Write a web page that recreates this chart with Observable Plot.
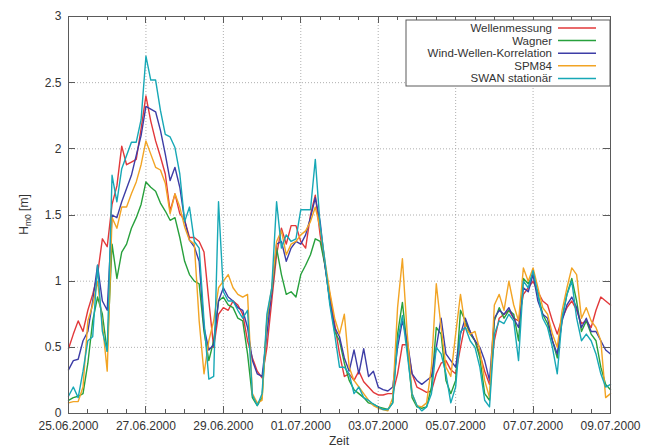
<!DOCTYPE html>
<html>
<head>
<meta charset="utf-8">
<script src="https://cdn.jsdelivr.net/npm/d3@7"></script>
<script src="https://cdn.jsdelivr.net/npm/@observablehq/plot@0.6"></script>
<style>
  body { margin: 0; background: #fff; }
  #chart { width: 647px; height: 448px; }
</style>
</head>
<body>
<div id="chart"></div>
<script>
// ---- data (3-hourly samples starting 25.06.2000 00:00 UTC) ----
const seriesNames = ["Wellenmessung", "Wagner", "Wind-Wellen-Korrelation", "SPM84", "SWAN stationär"];
const seriesColors = ["#e2383a", "#27a03c", "#3d3da6", "#f2a424", "#17a8b6"];
const startDate = "2000-06-25T00:00:00Z";
const stepHours = 3;

const wellenmessung = [
  0.49,0.60,0.70,0.62,0.78,0.90,1.05,1.32,1.26,
  1.58,1.72,2.02,1.88,1.90,1.92,2.15,2.40,
  2.21,2.06,1.94,1.81,1.53,1.66,1.51,1.46,1.33,1.33,
  1.30,1.22,0.85,0.50,0.75,0.80,0.78,0.85,0.82,0.75,
  0.55,0.42,0.32,0.27,0.50,0.85,1.20,1.40,1.28,1.42,
  1.42,1.30,1.25,1.50,1.65,1.35,1.12,0.90,0.68,0.45,
  0.28,0.30,0.25,0.32,0.24,0.20,0.16,0.14,0.14,0.15,
  0.15,0.30,0.52,0.52,0.30,0.20,0.18,0.16,0.17,0.30,
  0.38,0.40,0.33,0.30,0.50,0.68,0.62,0.55,0.45,0.32,
  0.22,0.55,0.72,0.75,0.78,0.72,0.70,0.90,0.95,1.00,
  0.92,0.85,0.82,0.70,0.60,0.72,0.80,0.85,0.78,0.68,
  0.70,0.65,0.78,0.88,0.85,0.82
];
const wagner = [
  0.10,0.12,0.13,0.15,0.38,0.70,0.88,0.75,0.47,
  1.28,1.02,1.22,1.28,1.40,1.48,1.58,1.75,
  1.71,1.68,1.59,1.53,1.46,1.48,1.33,1.15,1.05,1.00,
  0.98,0.62,0.40,0.55,0.85,0.88,0.82,0.80,0.72,0.70,
  0.45,0.12,0.06,0.12,0.70,0.92,1.25,1.05,0.90,0.92,
  0.88,1.05,1.12,1.20,1.32,1.30,1.12,0.85,0.62,0.55,
  0.38,0.25,0.18,0.15,0.12,0.08,0.07,0.05,0.04,0.03,
  0.08,0.60,0.84,0.50,0.12,0.05,0.04,0.05,0.20,0.65,
  0.60,0.25,0.15,0.25,0.78,0.70,0.60,0.55,0.42,0.15,
  0.10,0.70,0.80,0.72,0.78,0.75,0.55,1.02,0.98,1.05,
  0.90,0.75,0.68,0.55,0.42,0.72,0.90,1.02,0.85,0.62,
  0.70,0.60,0.55,0.35,0.22,0.18
];
const windWellenKorrelation = [
  0.33,0.40,0.41,0.55,0.62,0.85,1.12,0.85,0.78,
  1.50,1.48,1.60,1.70,1.80,1.95,2.10,2.32,
  2.30,2.28,2.14,1.96,1.76,1.86,1.71,1.46,1.31,1.26,
  1.15,0.65,0.48,0.52,0.85,0.95,0.88,0.85,0.80,0.78,
  0.65,0.40,0.30,0.28,0.60,0.92,1.28,1.30,1.15,1.25,
  1.30,1.28,1.35,1.48,1.63,1.45,1.12,0.85,0.65,0.58,
  0.42,0.32,0.48,0.30,0.49,0.28,0.32,0.20,0.18,0.17,
  0.20,0.50,0.70,0.55,0.30,0.25,0.22,0.25,0.28,0.50,
  0.72,0.45,0.40,0.35,0.60,0.72,0.62,0.55,0.50,0.40,
  0.25,0.72,0.78,0.75,0.80,0.72,0.65,0.95,0.92,1.05,
  0.85,0.75,0.72,0.55,0.45,0.70,0.82,0.88,0.80,0.65,
  0.72,0.62,0.62,0.55,0.48,0.45
];
const spm84 = [
  0.08,0.09,0.09,0.20,0.70,0.82,1.00,0.68,0.32,
  1.48,1.40,1.56,1.56,1.66,1.75,1.88,2.06,
  1.96,1.86,1.84,1.74,1.51,1.66,1.56,1.41,1.31,1.28,
  0.70,0.30,0.55,0.70,0.95,1.00,1.05,0.95,0.90,0.88,
  0.90,0.15,0.08,0.10,0.72,0.95,1.30,1.38,1.20,1.28,
  1.30,1.35,1.38,1.45,1.56,1.40,1.15,0.92,0.72,0.60,
  0.75,0.35,0.25,0.20,0.15,0.10,0.06,0.04,0.03,0.02,
  0.12,0.80,1.17,0.60,0.15,0.06,0.05,0.08,0.35,0.98,
  0.65,0.35,0.28,0.60,0.90,0.65,0.60,0.62,0.48,0.25,
  0.12,0.82,0.90,0.78,1.00,0.82,0.70,1.10,1.00,1.10,
  0.95,0.80,0.75,0.60,0.50,0.78,0.95,1.10,1.05,0.72,
  0.80,0.70,0.65,0.55,0.12,0.15
];
const swanStationaer = [
  0.13,0.20,0.12,0.32,0.55,0.58,1.12,0.62,0.47,
  1.80,1.60,1.85,1.95,2.05,2.05,2.22,2.70,
  2.52,2.52,2.29,2.11,2.09,2.01,1.81,1.45,1.56,1.30,
  1.25,0.70,0.26,0.28,1.60,0.92,0.85,0.85,0.78,0.72,
  0.78,0.14,0.06,0.15,0.75,0.95,1.60,1.25,1.35,1.30,
  1.32,1.54,1.54,1.54,1.92,1.42,1.15,0.82,0.60,0.35,
  0.35,0.30,0.15,0.20,0.12,0.10,0.07,0.05,0.03,0.03,
  0.08,0.55,0.74,0.45,0.15,0.06,0.02,0.05,0.15,0.50,
  0.45,0.30,0.08,0.20,0.62,0.65,0.55,0.50,0.35,0.10,
  0.05,0.60,0.70,0.68,0.75,0.70,0.40,1.00,0.95,1.08,
  0.90,0.72,0.65,0.50,0.30,0.72,0.90,1.00,0.72,0.55,
  0.60,0.55,0.45,0.30,0.20,0.22
];

const xTickLabels = ["25.06.2000","27.06.2000","29.06.2000","01.07.2000","03.07.2000","05.07.2000","07.07.2000","09.07.2000"];
const yTicks = [0, 0.5, 1, 1.5, 2, 2.5, 3];
const yTickLabels = ["0", "0.5", "1", "1.5", "2", "2.5", "3"];
const xLabel = "Zeit";

(function () {
  // ---- build table ----
  const parseDE = d3.utcParse("%d.%m.%Y");
  const majorDates = xTickLabels.map(parseDE);
  const t0 = new Date(startDate).getTime();
  const allSeries = [wellenmessung, wagner, windWellenKorrelation, spm84, swanStationaer];
  const data = [];
  allSeries.forEach((vals, k) => {
    vals.forEach((v, i) => {
      data.push({series: seriesNames[k], time: new Date(t0 + i * stepHours * 3600e3), value: v});
    });
  });
  const minorDates = d3.utcHour.every(12).range(majorDates[0], new Date(+majorDates[majorDates.length - 1] + 1));
  const majorSet = new Set(majorDates.map(d => +d));
  const labelFor = new Map(majorDates.map((d, i) => [+d, xTickLabels[i]]));

  const W = 647, H = 448, mT = 16, mB = 35, mL = 68, mR = 37;
  const gridStyle = {stroke: "#9a9a9a", strokeOpacity: 1, strokeWidth: 0.8, strokeDasharray: "1,2"};
  const axisColor = "#5a5a5a";
  const font = "'Liberation Sans', Arial, sans-serif";

  const svg = Plot.plot({
    width: W,
    height: H,
    marginTop: mT,
    marginBottom: mB,
    marginLeft: mL,
    marginRight: mR,
    style: {fontFamily: font, fontSize: "12px", color: "#333", background: "#fff"},
    x: {type: "utc", domain: [majorDates[0], majorDates[majorDates.length - 1]]},
    y: {domain: [0, 3]},
    color: {domain: seriesNames, range: seriesColors},
    marks: [
      Plot.gridX(majorDates, gridStyle),
      Plot.gridY(yTicks, gridStyle),
      Plot.line(data, {x: "time", y: "value", z: "series", stroke: "series", strokeWidth: 1.4}),
      Plot.axisX(majorDates, {anchor: "bottom", tickSize: 0, tickPadding: 8, tickFormat: d => labelFor.get(+d), label: null, fill: "#333"}),
      Plot.axisY(yTicks, {anchor: "left", tickSize: 0, tickPadding: 7, tickFormat: (d, i) => yTickLabels[i], label: null, fill: "#333"}),
      Plot.frame({stroke: axisColor, strokeWidth: 1})
    ]
  });
  document.getElementById("chart").appendChild(svg);

  const s = d3.select(svg);
  const xs = svg.scale("x"), ys = svg.scale("y");
  const yTop = mT, yBottom = H - mB, xLeft = mL, xRight = W - mR;

  // inward, mirrored tick marks (gnuplot style) positioned with Plot's scales
  const tg = s.append("g").attr("stroke", axisColor).attr("stroke-width", 1).attr("fill", "none");
  minorDates.forEach(d => {
    const x = Math.round(xs.apply(d)) + 0.5;
    const len = majorSet.has(+d) ? 7 : 4;
    tg.append("line").attr("x1", x).attr("x2", x).attr("y1", yBottom).attr("y2", yBottom - len);
    tg.append("line").attr("x1", x).attr("x2", x).attr("y1", yTop).attr("y2", yTop + len);
  });
  yTicks.forEach(v => {
    const y = Math.round(ys.apply(v)) + 0.5;
    tg.append("line").attr("x1", xLeft).attr("x2", xLeft + 7).attr("y1", y).attr("y2", y);
    tg.append("line").attr("x1", xRight).attr("x2", xRight - 7).attr("y1", y).attr("y2", y);
  });

  // x label
  s.append("text").attr("x", (xLeft + xRight) / 2).attr("y", 445).attr("text-anchor", "middle")
    .attr("font-family", font).attr("font-size", 12).attr("fill", "#333").text(xLabel);
  // y label with subscript
  const yl = s.append("text").attr("transform", `translate(28,${(yTop + yBottom) / 2}) rotate(-90)`).attr("text-anchor", "middle")
    .attr("font-family", font).attr("font-size", 12).attr("fill", "#333");
  yl.append("tspan").text("H");
  yl.append("tspan").attr("font-size", 8.5).attr("dy", 3).text("m0");
  yl.append("tspan").attr("dy", -3).text(" [m]");

  // legend
  const lg = s.append("g");
  const lx = 406, ly = 20, lw = xRight - 406, lh = 66;
  lg.append("rect").attr("x", lx).attr("y", ly).attr("width", lw).attr("height", lh)
    .attr("fill", "#fff").attr("stroke", axisColor).attr("stroke-width", 1);
  seriesNames.forEach((name, i) => {
    const cy = ly + 8 + i * 12.6;
    lg.append("text").attr("x", 552).attr("y", cy).attr("dy", "0.35em").attr("text-anchor", "end")
      .attr("font-family", font).attr("font-size", 11.5).attr("fill", "#333").text(name);
    lg.append("line").attr("x1", 558).attr("x2", 596).attr("y1", cy).attr("y2", cy)
      .attr("stroke", seriesColors[i]).attr("stroke-width", 1.5);
  });
})();
</script>
</body>
</html>
